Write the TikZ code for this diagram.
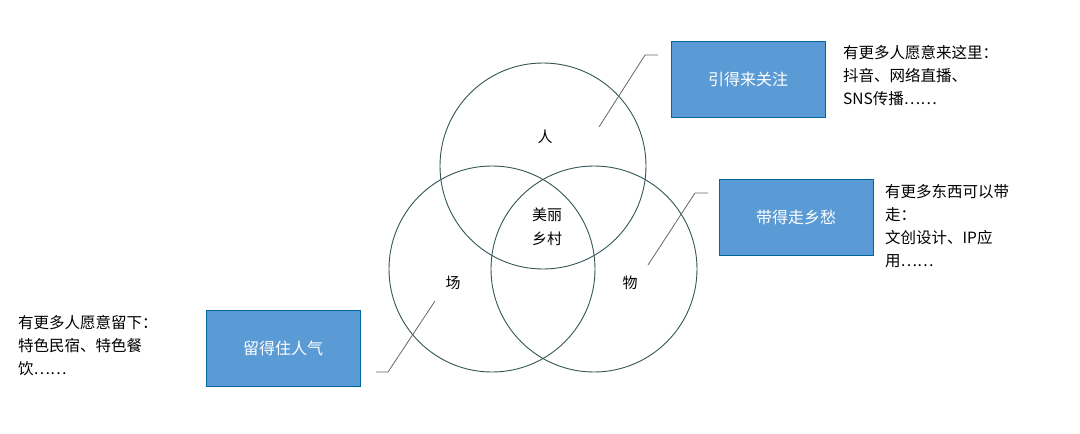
\documentclass[tikz,border=0pt]{standalone}
\usepackage{fontspec}
\setmainfont{Noto Sans CJK SC}
\begin{document}
\begin{tikzpicture}[x=1pt,y=-1pt,
  ring/.style={draw=black!55!teal!60!gray,line width=0.9pt},
  bluebox/.style={draw=blue!35!black!60!cyan,fill={rgb,255:red,91;green,155;blue,213},line width=0.8pt,minimum width=154pt,minimum height=76pt,text=white,font=\fontsize{16}{18}\selectfont},
  lbl/.style={font=\fontsize{15}{17}\selectfont},
  note/.style={font=\fontsize{15.5}{23}\selectfont,align=left,anchor=north west,inner sep=0pt},
  lead/.style={draw=gray!80!black,line width=0.8pt}]
\useasboundingbox (0,0) rectangle (1080,434);
\draw[ring] (543,166) circle (103);
\draw[ring] (492,269) circle (103);
\draw[ring] (594,269) circle (103);
\node[lbl] (ren) at (545,137) {人};
\node[lbl,align=center,font=\fontsize{15}{24}\selectfont] (mid) at (547,227) {美丽\\乡村};
\node[lbl] (chang) at (453,283) {场};
\node[lbl] (wu) at (630,283) {物};
\node[bluebox] (b1) at (748,79) {引得来关注};
\node[bluebox] (b2) at (796,217) {带得走乡愁};
\node[bluebox] (b3) at (283,348) {留得住人气};
\coordinate (p1a) at (658,55); \coordinate (p1b) at (645,55); \coordinate (p1c) at (599,127);
\coordinate (p2a) at (708,193); \coordinate (p2b) at (695,193); \coordinate (p2c) at (648,265);
\coordinate (p3a) at (435,301); \coordinate (p3b) at (388,372); \coordinate (p3c) at (376,372);
\draw[lead] (p1a) -- (p1b) -- (p1c);
\draw[lead] (p2a) -- (p2b) -- (p2c);
\draw[lead] (p3a) -- (p3b) -- (p3c);
\node[note] (n1) at (843,45) {有更多人愿意来这里：\\抖音、网络直播、\\SNS传播……};
\node[note] (n2) at (885,184) {有更多东西可以带\\走：\\文创设计、IP应\\用……};
\node[note] (n3) at (18,315) {有更多人愿意留下：\\特色民宿、特色餐\\饮……};
\end{tikzpicture}
\end{document}
